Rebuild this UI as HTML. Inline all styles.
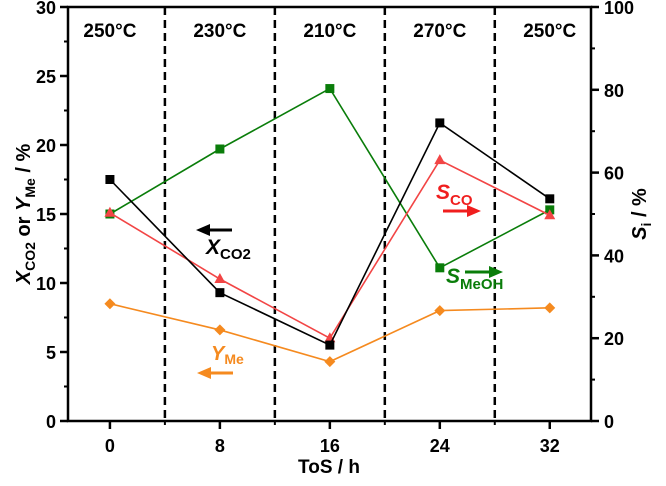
<!DOCTYPE html>
<html><head><meta charset="utf-8"><style>
html,body{margin:0;padding:0;background:#fff;}
svg{display:block;font-family:"Liberation Sans",Arial,sans-serif;font-weight:bold;}
</style></head><body>
<svg id="chart" width="666" height="486" viewBox="0 0 666 486">
<g id="grid"></g>
<g id="axes"></g>
<g id="series"></g>
<g id="annot">
 <text x="206" y="254" font-size="21" font-style="italic" fill="#000">X<tspan font-size="15" font-style="normal" dy="5">CO2</tspan></text>
 <text x="436" y="199" font-size="21" font-style="italic" fill="#f01e1e">S<tspan font-size="15" font-style="normal" dy="6">CO</tspan></text>
 <text x="446" y="283" font-size="21" font-style="italic" fill="#0a7d0a">S<tspan font-size="15" font-style="normal" dy="6">MeOH</tspan></text>
 <text x="211" y="360" font-size="20" font-style="italic" fill="#f58a1f">Y<tspan font-size="14" font-style="normal" dy="4">Me</tspan></text>
 <g><line x1="232" y1="230" x2="206" y2="230" stroke="#000" stroke-width="3"/><polygon points="196,230 210,224 210,236" fill="#000"/></g>
 <g><line x1="443" y1="211" x2="470" y2="211" stroke="#f01e1e" stroke-width="3"/><polygon points="481,211 467,205 467,217" fill="#f01e1e"/></g>
 <g><line x1="465" y1="272" x2="492" y2="272" stroke="#0a7d0a" stroke-width="3"/><polygon points="503,272 489,266 489,278" fill="#0a7d0a"/></g>
 <g><line x1="233" y1="373" x2="208" y2="373" stroke="#f58a1f" stroke-width="3"/><polygon points="197,373 211,367 211,379" fill="#f58a1f"/></g>
</g>
<text x="329" y="473" font-size="19" text-anchor="middle">ToS / h</text>
<text transform="translate(30,214) rotate(-90)" font-size="20" text-anchor="middle"><tspan font-style="italic">X</tspan><tspan font-size="14" dy="5">CO2</tspan><tspan dy="-5"> or </tspan><tspan font-style="italic">Y</tspan><tspan font-size="14" dy="5">Me</tspan><tspan dy="-5"> / %</tspan></text>
<text transform="translate(646,214) rotate(-90)" font-size="20" text-anchor="middle"><tspan font-style="italic">S</tspan><tspan font-size="14" dy="5">i</tspan><tspan dy="-5"> / %</tspan></text>
</svg>
<script>
const tos=[0,8,16,24,32];
const xco2=[17.5,9.3,5.5,21.6,16.1];
const yme=[8.5,6.6,4.3,8.0,8.2];
const sco=[50.3,34.3,20,63,49.7];
const smeoh=[50,65.7,80.3,37,51];
const temps=["250°C","230°C","210°C","270°C","250°C"];
const dividers=[4,12,20,28];
const xTicks=[0,8,16,24,32];
const yTicksL=[0,5,10,15,20,25,30];
const yTicksR=[0,20,40,60,80,100];
const L=68,R=591,T=7,B=421;
const X=v=>L+(v+3.05)/38.05*(R-L);
const YL=v=>B-v/30*(B-T);
const YR=v=>B-v/100*(B-T);
const NS="http://www.w3.org/2000/svg";
function mk(p,t,a){const e=document.createElementNS(NS,t);for(const k in a)e.setAttribute(k,a[k]);p.appendChild(e);return e;}
const grid=document.getElementById('grid'),axes=document.getElementById('axes'),ser=document.getElementById('series');
dividers.forEach((d,i)=>{const e=mk(grid,'line',{x1:X(d),x2:X(d),y1:T,y2:B,stroke:'#000','stroke-width':2.5,'stroke-dasharray':'8,5'});

});
temps.forEach((t,i)=>{const e=mk(grid,'text',{x:X(tos[i]),y:37,'font-size':19,'text-anchor':'middle'});e.textContent=t;

});
const fr=mk(axes,'rect',{x:L,y:T,width:R-L,height:B-T,fill:'none',stroke:'#000','stroke-width':2.5});


xTicks.forEach(v=>{mk(axes,'line',{x1:X(v),x2:X(v),y1:B,y2:B+8,stroke:'#000','stroke-width':2.5});
const e=mk(axes,'text',{x:X(v),y:B+31,'font-size':18,'text-anchor':'middle'});e.textContent=v;

});
dividers.forEach(v=>mk(axes,'line',{x1:X(v),x2:X(v),y1:B,y2:B+4,stroke:'#000','stroke-width':2}));
yTicksL.forEach((v,i)=>{mk(axes,'line',{x1:L-8,x2:L,y1:YL(v),y2:YL(v),stroke:'#000','stroke-width':2.5});
if(i<yTicksL.length-1)mk(axes,'line',{x1:L-4,x2:L,y1:YL(v+2.5),y2:YL(v+2.5),stroke:'#000','stroke-width':2});
const e=mk(axes,'text',{x:L-12,y:YL(v)+7,'font-size':18,'text-anchor':'end'});e.textContent=v;

});
yTicksR.forEach((v,i)=>{mk(axes,'line',{x1:R,x2:R+8,y1:YR(v),y2:YR(v),stroke:'#000','stroke-width':2.5});
if(i<yTicksR.length-1)mk(axes,'line',{x1:R,x2:R+4,y1:YR(v+10),y2:YR(v+10),stroke:'#000','stroke-width':2});
const e=mk(axes,'text',{x:R+13,y:YR(v)+7,'font-size':18});e.textContent=v;

});
function series(vals,Y,color,shape,name){
 const g=mk(ser,'g',{});
 
 
 mk(g,'polyline',{points:vals.map((v,i)=>X(tos[i])+','+Y(v)).join(' '),fill:'none',stroke:color,'stroke-width':1.6});
 vals.forEach((v,i)=>{const x=X(tos[i]),y=Y(v);let e;
  if(shape==='sq')e=mk(g,'rect',{x:x-4.5,y:y-4.5,width:9,height:9,fill:color});
  else if(shape==='tri')e=mk(g,'polygon',{points:`${x},${y-6} ${x-5.5},${y+4} ${x+5.5},${y+4}`,fill:color});
  else e=mk(g,'polygon',{points:`${x},${y-5.5} ${x+5.5},${y} ${x},${y+5.5} ${x-5.5},${y}`,fill:color});
  
  });
}
series(smeoh,YR,'#0a7d0a','sq','smeoh');
series(sco,YR,'#f24545','tri','sco');
series(xco2,YL,'#000','sq','xco2');
series(yme,YL,'#f58a1f','dia','yme');
</script>
</body></html>
